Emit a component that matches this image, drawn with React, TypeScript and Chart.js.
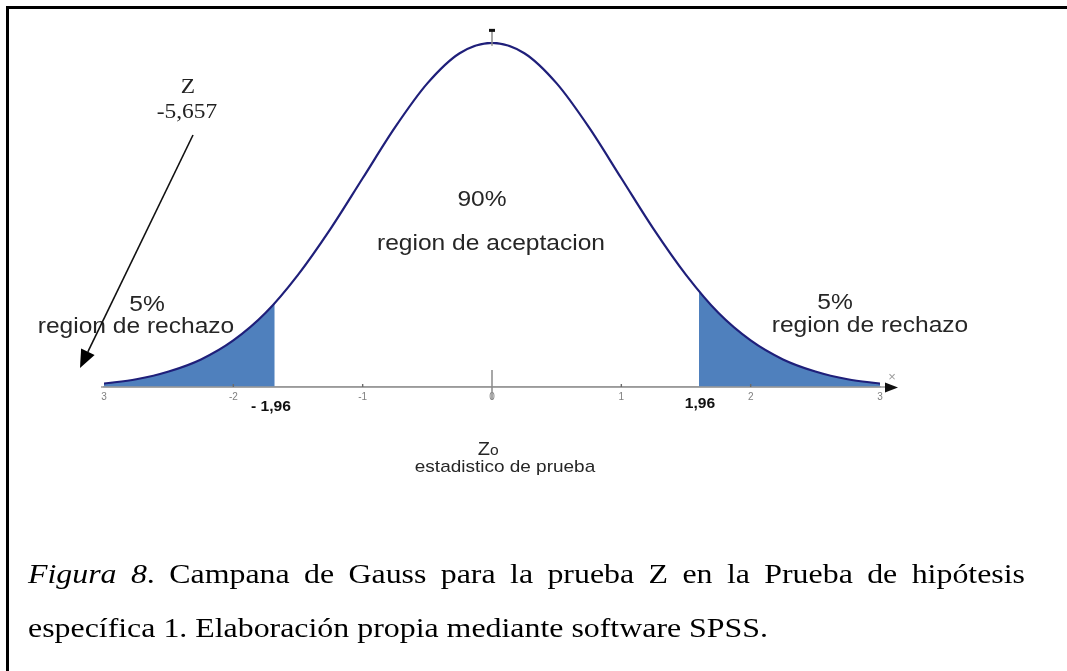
import React, { useEffect, useRef } from 'react';
import { Chart, registerables } from 'chart.js';

Chart.register(...registerables);

// z values and density
const zValues = [-3, -2.75, -2.5, -2.25, -2, -1.75, -1.5, -1.25, -1, -0.75, -0.5, -0.25, 0, 0.25, 0.5, 0.75, 1, 1.25, 1.5, 1.75, 2, 2.25, 2.5, 2.75, 3];
const density = [0.004, 0.009, 0.018, 0.032, 0.054, 0.086, 0.13, 0.183, 0.242, 0.301, 0.352, 0.387, 0.399, 0.387, 0.352, 0.301, 0.242, 0.183, 0.13, 0.086, 0.054, 0.032, 0.018, 0.009, 0.004];

// shaded rejection tails
const leftTailX = [-3, -2.75, -2.5, -2.25, -2, -1.75, -1.68];
const leftTailY = [0.004, 0.009, 0.018, 0.032, 0.054, 0.086, 0.097];
const rightTailX = [1.6, 1.75, 2, 2.25, 2.5, 2.75, 3];
const rightTailY = [0.111, 0.086, 0.054, 0.032, 0.018, 0.009, 0.004];

// axis ticks
const xTicks = [-3, -2, -1, 0, 1, 2, 3];
const xTickLabels = ['3', '-2', '-1', '0', '1', '2', '3'];
const criticalLabels = ['- 1,96', '1,96'];

const captionLine1 = ['Figura', '8.', 'Campana', 'de', 'Gauss', 'para', 'la', 'prueba', 'Z', 'en', 'la', 'Prueba', 'de', 'hipótesis'];
const captionLine2 = 'específica 1. Elaboración propia mediante software SPSS.';

const SANS = '"Liberation Sans", Arial, sans-serif';
const SERIF = '"Liberation Serif", "Times New Roman", serif';
const SX = 1.116;

function txt(ctx: CanvasRenderingContext2D, text: string, x: number, y: number, font: string, color: string, align: CanvasTextAlign, sx = SX, baseline: CanvasTextBaseline = 'middle') {
  ctx.save();
  ctx.font = font;
  ctx.fillStyle = color;
  ctx.textAlign = align;
  ctx.textBaseline = baseline;
  ctx.translate(x, y);
  ctx.scale(sx, 1);
  ctx.fillText(text, 0, 0);
  ctx.restore();
}

const overlayPlugin = {
  id: 'overlay',
  afterDraw(chart: any) {
    const ctx: CanvasRenderingContext2D = chart.ctx;
    const xs = chart.scales.x;
    const ys = chart.scales.y;
    const axisY = ys.getPixelForValue(0);
    const x0 = xs.getPixelForValue(0);

    ctx.save();
    // frame
    ctx.fillStyle = '#000';
    ctx.fillRect(6, 6, 1061, 3);
    ctx.fillRect(6, 6, 3, 665);

    // axis extension + arrow
    ctx.strokeStyle = '#9a9a9a';
    ctx.lineWidth = 1.5;
    ctx.beginPath();
    ctx.moveTo(xs.getPixelForValue(-3) - 3, axisY);
    ctx.lineTo(888, axisY);
    ctx.stroke();
    ctx.fillStyle = '#111';
    ctx.beginPath();
    ctx.moveTo(898, axisY + 0.5);
    ctx.lineTo(885, axisY - 4.5);
    ctx.lineTo(885, axisY + 5.5);
    ctx.closePath();
    ctx.fill();
    txt(ctx, '×', 892, 377, '13px ' + SANS, '#9a9a9a', 'center', 1);

    // small tick marks
    ctx.strokeStyle = '#6a6a6a';
    ctx.lineWidth = 1.4;
    [-2, -1, 1, 2].forEach((v) => {
      const px = xs.getPixelForValue(v);
      ctx.beginPath();
      ctx.moveTo(px, axisY - 3);
      ctx.lineTo(px, axisY);
      ctx.stroke();
    });
    // y axis stub at 0
    ctx.strokeStyle = '#8a8a8a';
    ctx.lineWidth = 1.5;
    ctx.beginPath();
    ctx.moveTo(x0, axisY - 17);
    ctx.lineTo(x0, axisY + 13);
    ctx.stroke();
    // top mark
    const peakY = ys.getPixelForValue(0.399);
    ctx.beginPath();
    ctx.moveTo(x0, peakY - 12);
    ctx.lineTo(x0, peakY + 3);
    ctx.stroke();
    ctx.fillStyle = '#111';
    ctx.fillRect(x0 - 3, peakY - 14, 6, 3);

    // critical value labels
    txt(ctx, criticalLabels[0], 271, 407, 'bold 14px ' + SANS, '#111', 'center');
    txt(ctx, criticalLabels[1], 700, 404, 'bold 14px ' + SANS, '#111', 'center');

    // region texts
    const gray = '#262626';
    txt(ctx, '90%', 482, 200, '22px ' + SANS, gray, 'center');
    txt(ctx, 'region de aceptacion', 491, 244, '22px ' + SANS, gray, 'center');
    txt(ctx, '5%', 147, 305, '22px ' + SANS, gray, 'center');
    txt(ctx, 'region de rechazo', 136, 327, '22px ' + SANS, gray, 'center');
    txt(ctx, '5%', 835, 303, '22px ' + SANS, gray, 'center');
    txt(ctx, 'region de rechazo', 870, 326, '22px ' + SANS, gray, 'center');

    // Zo
    txt(ctx, 'Z', 490, 455, '18px ' + SANS, gray, 'right', SX, 'alphabetic');
    txt(ctx, 'o', 490, 455, '14px ' + SANS, gray, 'left', SX, 'alphabetic');
    txt(ctx, 'estadistico de prueba', 505, 467, '17px ' + SANS, gray, 'center');

    // Z -5,657 with arrow
    txt(ctx, 'Z', 188, 87, '21px ' + SERIF, '#222', 'center');
    txt(ctx, '-5,657', 187, 112, '21px ' + SERIF, '#222', 'center');
    const ax1 = 193, ay1 = 135, ax2 = 80, ay2 = 368;
    const ang = Math.atan2(ay2 - ay1, ax2 - ax1);
    const hl = 18, hw = 7.5;
    const bx = ax2 - hl * Math.cos(ang), by = ay2 - hl * Math.sin(ang);
    ctx.strokeStyle = '#111';
    ctx.lineWidth = 1.6;
    ctx.beginPath();
    ctx.moveTo(ax1, ay1);
    ctx.lineTo(bx, by);
    ctx.stroke();
    ctx.fillStyle = '#000';
    ctx.beginPath();
    ctx.moveTo(ax2, ay2);
    ctx.lineTo(bx + hw * Math.sin(ang), by - hw * Math.cos(ang));
    ctx.lineTo(bx - hw * Math.sin(ang), by + hw * Math.cos(ang));
    ctx.closePath();
    ctx.fill();

    // caption
    const capFont = '28px ' + SERIF;
    const capItal = 'italic 28px ' + SERIF;
    ctx.font = capFont;
    const nat2 = ctx.measureText(captionLine2).width;
    const csx = 740 / nat2;
    const left = 28;
    const words = captionLine1.map((w, i) => {
      if (i === 0) { ctx.font = capItal; return ctx.measureText(w).width * csx; }
      if (i === 1) {
        ctx.font = capItal; const a = ctx.measureText('8').width;
        ctx.font = capFont; const b = ctx.measureText('.').width;
        return (a + b) * csx;
      }
      ctx.font = capFont; return ctx.measureText(w).width * csx;
    });
    const total = words.reduce((s, w) => s + w, 0);
    const gap = (1025 - left - total) / (captionLine1.length - 1);
    let cx = left;
    captionLine1.forEach((w, i) => {
      if (i === 0) {
        txt(ctx, w, cx, 583, capItal, '#000', 'left', csx, 'alphabetic');
      } else if (i === 1) {
        txt(ctx, '8', cx, 583, capItal, '#000', 'left', csx, 'alphabetic');
        ctx.font = capItal;
        const a = ctx.measureText('8').width * csx;
        txt(ctx, '.', cx + a, 583, capFont, '#000', 'left', csx, 'alphabetic');
      } else {
        txt(ctx, w, cx, 583, capFont, '#000', 'left', csx, 'alphabetic');
      }
      cx += words[i] + gap;
    });
    txt(ctx, captionLine2, left, 637, capFont, '#000', 'left', csx, 'alphabetic');
    ctx.restore();
  },
};

export default function App() {
  const ref = useRef<HTMLCanvasElement | null>(null);
  useEffect(() => {
    if (!ref.current) return;
    const chart = new Chart(ref.current, {
      type: 'line',
      data: {
        datasets: [
          {
            label: 'curva',
            data: zValues.map((x, i) => ({ x, y: density[i] })),
            borderColor: '#1f1f7a',
            borderWidth: 2.2,
            pointRadius: 0,
            fill: false,
            cubicInterpolationMode: 'monotone',
            order: 0,
          },
          {
            label: 'cola izquierda',
            data: leftTailX.map((x, i) => ({ x, y: leftTailY[i] })),
            borderWidth: 0,
            borderColor: 'rgba(0,0,0,0)',
            backgroundColor: '#4f80bd',
            pointRadius: 0,
            fill: 'origin',
            cubicInterpolationMode: 'monotone',
            order: 1,
          },
          {
            label: 'cola derecha',
            data: rightTailX.map((x, i) => ({ x, y: rightTailY[i] })),
            borderWidth: 0,
            borderColor: 'rgba(0,0,0,0)',
            backgroundColor: '#4f80bd',
            pointRadius: 0,
            fill: 'origin',
            cubicInterpolationMode: 'monotone',
            order: 1,
          },
        ],
      } as any,
      options: {
        responsive: false,
        animation: false,
        devicePixelRatio: 1,
        layout: { padding: { left: 104, right: 187, top: 42, bottom: 264 } },
        plugins: { legend: { display: false }, tooltip: { enabled: false } },
        scales: {
          x: {
            type: 'linear',
            min: -3,
            max: 3,
            afterFit: (s: any) => { s.height = 20; },
            afterBuildTicks: (s: any) => { s.ticks = xTicks.map((v) => ({ value: v })); },
            grid: { display: false, drawTicks: false },
            border: { display: true, color: '#9a9a9a', width: 1.5 },
            ticks: {
              padding: 4,
              color: '#7f7f7f',
              font: { size: 10, family: SANS },
              maxRotation: 0,
              callback: (v: any) => { const i = xTicks.indexOf(Number(v)); return i >= 0 ? xTickLabels[i] : ''; },
            },
          },
          y: { display: false, min: 0, max: 0.4 },
        },
      } as any,
      plugins: [overlayPlugin],
    });
    return () => chart.destroy();
  }, []);
  return (
    <div style={{ position: 'absolute', left: 0, top: 0, width: 1067, height: 671, background: '#fff' }}>
      <canvas ref={ref} width={1067} height={671} style={{ width: 1067, height: 671, display: 'block' }} />
    </div>
  );
}
